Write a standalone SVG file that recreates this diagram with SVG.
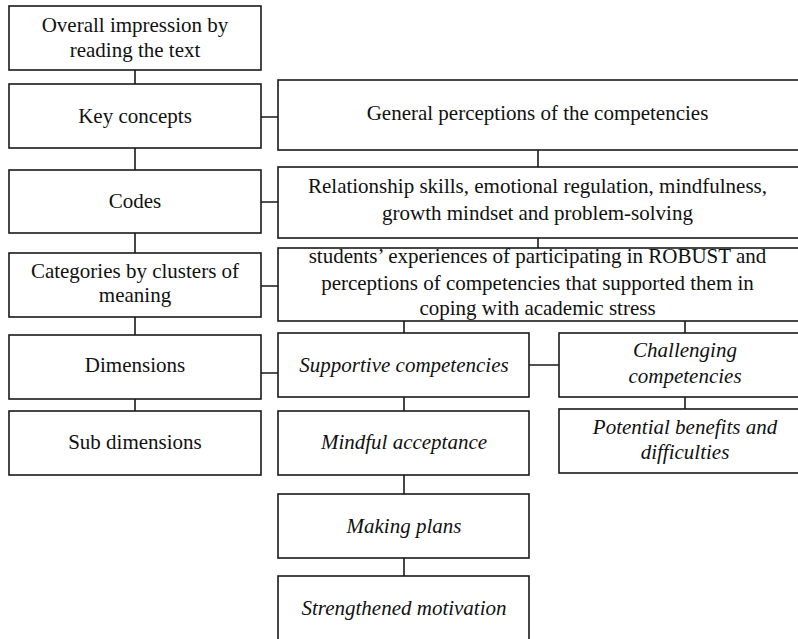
<svg xmlns="http://www.w3.org/2000/svg" width="798" height="639" viewBox="0 0 798 639">
<style>
.box{fill:#fff;stroke:#1a1a1a;stroke-width:1.6}
.c{stroke:#1a1a1a;stroke-width:1.6;fill:none}
.t{fill:#111;text-anchor:middle}
.i{font-style:italic}
</style>
<rect width="798" height="639" fill="#fff"/>
<g id="connectors">
<path class="c" d="M135 70V84M135 148V170M135 233V253M135 317V335M135 399V411"/>
<path class="c" d="M261 117H278M261 202H278M261 286H278M261 373H278"/>
<path class="c" d="M538 150V167M538 238V248"/>
<path class="c" d="M404 321V333M685 321V333M529 365H559"/>
<path class="c" d="M404 397V411M404 475V494M404 558V576M685 397V409"/>
</g>
<g id="nodes" font-family="Liberation Serif" font-size="21">
<g id="n-overall"><rect class="box" x="9" y="6" width="252" height="64"/><text class="t" x="135" y="32">Overall impression by<tspan x="135" y="57">reading the text</tspan></text></g>
<g id="n-key"><rect class="box" x="9" y="84" width="252" height="64"/><text class="t" x="135" y="123">Key concepts</text></g>
<g id="n-codes"><rect class="box" x="9" y="170" width="252" height="63"/><text class="t" x="135" y="208">Codes</text></g>
<g id="n-categories"><rect class="box" x="9" y="253" width="252" height="64"/><text class="t" x="135" y="278">Categories by clusters of<tspan x="135" y="302">meaning</tspan></text></g>
<g id="n-dimensions"><rect class="box" x="9" y="335" width="252" height="64"/><text class="t" x="135" y="372">Dimensions</text></g>
<g id="n-subdimensions"><rect class="box" x="9" y="411" width="252" height="64"/><text class="t" x="135" y="449">Sub dimensions</text></g>
<g id="n-general"><rect class="box" x="278" y="80" width="522" height="70"/><text class="t" x="537.5" y="120">General perceptions of the competencies</text></g>
<g id="n-relationship"><rect class="box" x="278" y="167" width="522" height="71"/><text class="t" x="537.5" y="193">Relationship skills, emotional regulation, mindfulness,<tspan x="537.5" y="220">growth mindset and problem-solving</tspan></text></g>
<g id="n-students"><rect class="box" x="278" y="248" width="522" height="73"/><text class="t" x="537.5" y="263">students’ experiences of participating in ROBUST and<tspan x="537.5" y="290">perceptions of competencies that supported them in</tspan><tspan x="537.5" y="315">coping with academic stress</tspan></text></g>
<g id="n-supportive"><rect class="box" x="278" y="333" width="251" height="64"/><text class="t i" x="404" y="372">Supportive competencies</text></g>
<g id="n-challenging"><rect class="box" x="559" y="333" width="252" height="64"/><text class="t i" x="685" y="357">Challenging<tspan x="685" y="383">competencies</tspan></text></g>
<g id="n-mindful"><rect class="box" x="278" y="411" width="251" height="64"/><text class="t i" x="404" y="449">Mindful acceptance</text></g>
<g id="n-potential"><rect class="box" x="559" y="409" width="252" height="64"/><text class="t i" x="685" y="434">Potential benefits and<tspan x="685" y="459">difficulties</tspan></text></g>
<g id="n-plans"><rect class="box" x="278" y="494" width="251" height="64"/><text class="t i" x="404" y="533">Making plans</text></g>
<g id="n-motivation"><rect class="box" x="278" y="576" width="251" height="66"/><text class="t i" x="404" y="615">Strengthened motivation</text></g>
</g>
</svg>
